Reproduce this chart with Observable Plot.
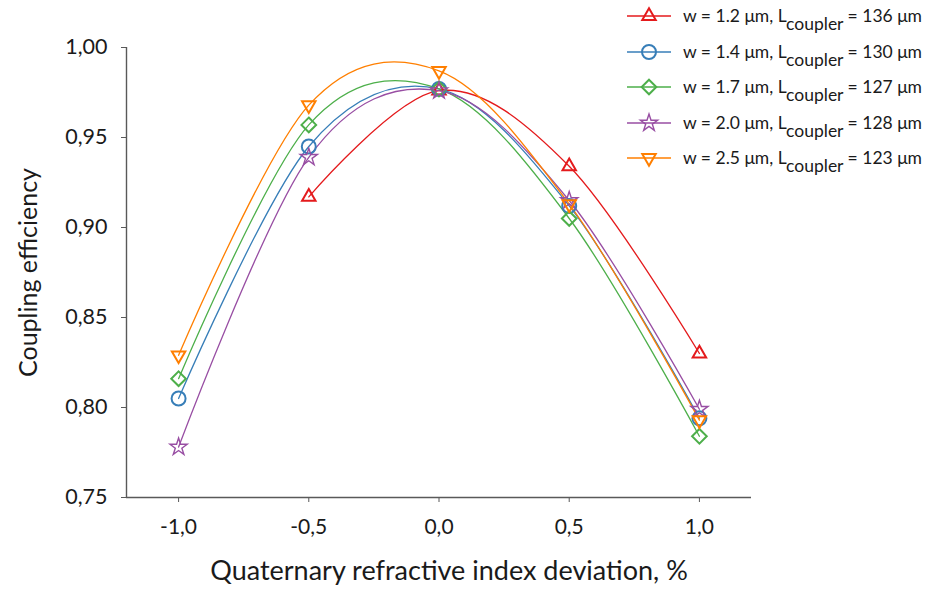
<!DOCTYPE html>
<html>
<head>
<meta charset="utf-8">
<script src="https://cdn.jsdelivr.net/npm/d3@7"></script>
<script src="https://cdn.jsdelivr.net/npm/@observablehq/plot@0.6"></script>
<style>
  html, body { margin: 0; padding: 0; background: #fff; }
  #chart { width: 930px; height: 598px; }
</style>
</head>
<body>
<div id="chart"></div>
<script>
// ---- data ----
const deviation = [-1.0, -0.5, 0.0, 0.5, 1.0];
const w12 = [null, 0.917, 0.976, 0.934, 0.830];
const w14 = [0.805, 0.945, 0.977, 0.912, 0.794];
const w17 = [0.816, 0.957, 0.977, 0.905, 0.784];
const w20 = [0.778, 0.939, 0.976, 0.915, 0.799];
const w25 = [0.829, 0.968, 0.987, 0.913, 0.793];
const seriesLabels = [
  ["w = 1.2 μm, L", "coupler", " = 136 μm"],
  ["w = 1.4 μm, L", "coupler", " = 130 μm"],
  ["w = 1.7 μm, L", "coupler", " = 127 μm"],
  ["w = 2.0 μm, L", "coupler", " = 128 μm"],
  ["w = 2.5 μm, L", "coupler", " = 123 μm"]
];
const xTicks = [-1.0, -0.5, 0.0, 0.5, 1.0];
const yTicks = [0.75, 0.80, 0.85, 0.90, 0.95, 1.00];

// ---- styles ----
const seriesValues = [w12, w14, w17, w20, w25];
const styles = [
  {color: "#e41a1c", symbol: "triangle", r: 5.0, rotate: 0, sw: 2},
  {color: "#377eb8", symbol: "circle", r: 7, rotate: 0, sw: 2},
  {color: "#4daf4a", symbol: "diamond2", r: 6.6, rotate: 0, sw: 2},
  {color: "#984ea3", symbol: "star", r: 5.4, rotate: 0, sw: 1.4},
  {color: "#ff7f00", symbol: "triangle", r: 5.0, rotate: 180, sw: 2}
];

const comma = (d, n) => d.toFixed(n).replace(".", ",");
const font = "Lato, 'Open Sans', sans-serif";

const marks = [];
seriesValues.forEach((vals, i) => {
  const rows = deviation.map((x, j) => ({x, y: vals[j]})).filter(d => d.y != null);
  marks.push(Plot.line(rows, {x: "x", y: "y", stroke: styles[i].color, strokeWidth: 1.3, curve: "cardinal"}));
});
seriesValues.forEach((vals, i) => {
  const rows = deviation.map((x, j) => ({x, y: vals[j]})).filter(d => d.y != null);
  marks.push(Plot.dot(rows, {x: "x", y: "y", stroke: styles[i].color, strokeWidth: styles[i].sw, fill: "none",
    symbol: styles[i].symbol, r: styles[i].r, rotate: styles[i].rotate}));
});

const chart = Plot.plot({
  width: 930,
  height: 598,
  marginLeft: 126,
  marginRight: 179,
  marginTop: 47,
  marginBottom: 101,
  style: {fontFamily: font, color: "#1a1a1a", background: "#fff", overflow: "visible"},
  x: {domain: [-1.2, 1.2]},
  y: {domain: [0.75, 1.0]},
  marks: [
    Plot.axisX({ticks: xTicks, tickFormat: d => comma(d, 1), tickSize: 5, tickPadding: 17, fontSize: 21, label: null, stroke: "#595959"}),
    Plot.axisY({ticks: yTicks, tickFormat: d => comma(d, 2), tickSize: 5, tickPadding: 14, fontSize: 21.5, label: null, stroke: "#595959"}),
    Plot.ruleX([-1.2], {stroke: "#595959", strokeWidth: 1.4}),
    Plot.ruleY([0.75], {stroke: "#595959", strokeWidth: 1.4, x1: -1.2, x2: 1.2}),
    ...marks,
    Plot.text(["Coupling efficiency"], {frameAnchor: "left", textAnchor: "middle", lineAnchor: "middle", rotate: -90, dx: -98, fontSize: 25, fill: "#1a1a1a"}),
    Plot.text(["Quaternary refractive index deviation, %"], {frameAnchor: "bottom", dy: 82, dx: 10, fontSize: 27, fill: "#1a1a1a"})
  ]
});
document.getElementById("chart").appendChild(chart);

// ---- legend ----
const svg = d3.select(chart);
const symMap = {triangle: d3.symbolTriangle, circle: d3.symbolCircle, diamond2: d3.symbolDiamond2, star: d3.symbolStar};
const leg = svg.append("g").attr("font-family", font).attr("font-size", 17.5).attr("fill", "#1a1a1a").attr("text-anchor", "start");
const rowY = [16, 52, 87, 123, 158];
styles.forEach((s, i) => {
  const g = leg.append("g").attr("transform", `translate(0,${rowY[i]})`);
  g.append("line").attr("x1", 627).attr("x2", 671).attr("stroke", s.color).attr("stroke-width", 1.3);
  g.append("path")
    .attr("d", d3.symbol(symMap[s.symbol], Math.PI * s.r * s.r)())
    .attr("transform", `translate(649,0) rotate(${s.rotate})`)
    .attr("fill", "none").attr("stroke", s.color).attr("stroke-width", s.sw);
  const t = g.append("text").attr("x", 683).attr("y", 6).attr("text-anchor", "start");
  t.append("tspan").text(seriesLabels[i][0]);
  t.append("tspan").attr("dy", 8).text(seriesLabels[i][1]);
  t.append("tspan").attr("dy", -8).text(seriesLabels[i][2]);
});
</script>
</body>
</html>
